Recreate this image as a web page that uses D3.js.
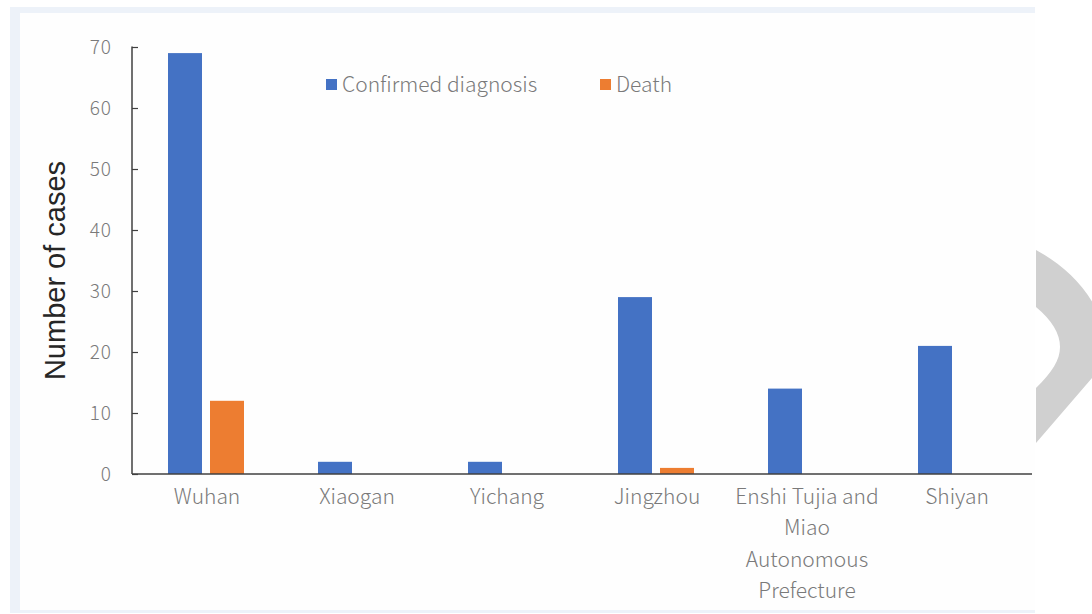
<!DOCTYPE html>
<html>
<head>
<meta charset="utf-8">
<script src="https://cdn.jsdelivr.net/npm/d3@7/dist/d3.min.js"></script>
<style>
  html, body { margin: 0; padding: 0; background: #fff; }
  svg { display: block; }
  .tick-label { font-family: "Noto Sans CJK SC", "Noto Sans", sans-serif; font-weight: 300; fill: #7a7a7a; }
</style>
</head>
<body>
<svg id="chart"></svg>
<script>
const categories = ['Wuhan', 'Xiaogan', 'Yichang', 'Jingzhou', 'Enshi Tujia and Miao Autonomous Prefecture', 'Shiyan'];
const categoryLines = [['Wuhan'], ['Xiaogan'], ['Yichang'], ['Jingzhou'], ['Enshi Tujia and', 'Miao', 'Autonomous', 'Prefecture'], ['Shiyan']];
const confirmed = [69, 2, 2, 29, 14, 21];
const deaths = [12, 0, 0, 1, 0, 0];
const seriesNames = ['Confirmed diagnosis', 'Death'];
const seriesColors = ['#4472c4', '#ed7d31'];
const yTicks = [0, 10, 20, 30, 40, 50, 60, 70];

const width = 1092;
const height = 614;
const margin = { top: 47, left: 132, right: 60, bottom: 140 };
const innerWidth = 1032 - margin.left;
const innerHeight = 474 - margin.top;

const svg = d3.select('#chart')
    .attr('width', width)
    .attr('height', height);

// background frame
svg.append('rect').attr('x', 10).attr('y', 7).attr('width', 1025).attr('height', 606).attr('fill', '#edf2f9');
svg.append('rect').attr('x', 20).attr('y', 13).attr('width', 1015).attr('height', 597).attr('fill', '#fefefe');

// decorative grey arc on right edge
svg.append('path')
    .attr('d', 'M1036,250 C1070,268 1100,300 1104,336 C1106,350 1100,364 1092,378 L1036,443 L1036,388 C1052,372 1060,360 1060,347 C1060,334 1052,320 1036,307 Z')
    .attr('fill', '#d0d0d0');

const g = svg.append('g')
    .attr('transform', `translate(${margin.left},${margin.top})`);

const x = d3.scaleBand()
    .domain(categories)
    .range([0, innerWidth]);

const y = d3.scaleLinear()
    .domain([0, 70])
    .range([innerHeight, 0]);

const barW = 34;
const gap = 8;
const series = [confirmed, deaths];

series.forEach((vals, si) => {
    g.selectAll('.bar' + si)
        .data(categories)
        .join('rect')
            .attr('class', 'bar' + si)
            .attr('x', d => x(d) + x.bandwidth() / 2 - barW - gap / 2 + si * (barW + gap) - 1)
            .attr('width', barW)
            .attr('y', (d, i) => y(vals[i]))
            .attr('height', (d, i) => innerHeight - y(vals[i]))
            .attr('fill', seriesColors[si]);
});

// y axis
const yAxis = g.append('g')
    .call(d3.axisRight(y).tickValues(yTicks).tickSize(6).tickFormat(''));
yAxis.select('.domain').attr('d', `M0,-0.5V${innerHeight}`).attr('stroke', '#404040').attr('stroke-width', 1.5);
yAxis.selectAll('.tick line').attr('stroke', '#404040').attr('stroke-width', 1.2);

g.selectAll('.ylab')
    .data(yTicks)
    .join('text')
        .attr('class', 'tick-label ylab')
        .attr('x', -20)
        .attr('y', d => y(d))
        .attr('dy', '0.36em')
        .attr('text-anchor', 'end')
        .style('font-size', '19px')
        .style('letter-spacing', '1px')
        .text(d => d);

// x axis
g.append('line')
    .attr('x1', 0).attr('x2', innerWidth)
    .attr('y1', innerHeight).attr('y2', innerHeight)
    .attr('stroke', '#404040').attr('stroke-width', 1.5);

const xl = g.selectAll('.xlab')
    .data(categories)
    .join('text')
        .attr('class', 'tick-label xlab')
        .attr('x', d => x(d) + x.bandwidth() / 2)
        .attr('y', innerHeight + 30)
        .attr('text-anchor', 'middle')
        .style('font-size', '21px');
xl.each(function(d, i) {
    d3.select(this).selectAll('tspan')
        .data(categoryLines[i])
        .join('tspan')
            .attr('x', x(d) + x.bandwidth() / 2)
            .attr('dy', (t, j) => j === 0 ? 0 : 31.3)
            .text(t => t);
});

// y title
svg.append('text')
    .attr('transform', `translate(65,${margin.top + innerHeight / 2 + 10}) rotate(-90)`)
    .attr('text-anchor', 'middle')
    .style('font-family', '"Liberation Sans", Arial, sans-serif')
    .style('font-size', '29px')
    .attr('fill', '#262626')
    .text('Number of cases');

// legend
const legendX = [326, 600];
seriesNames.forEach((name, i) => {
    svg.append('rect')
        .attr('x', legendX[i]).attr('y', 79)
        .attr('width', 11).attr('height', 11)
        .attr('fill', seriesColors[i]);
    svg.append('text')
        .attr('class', 'tick-label')
        .attr('x', legendX[i] + 16).attr('y', 92)
        .style('font-size', '21px')
        .attr('fill', '#666')
        .text(name);
});
</script>
</body>
</html>
